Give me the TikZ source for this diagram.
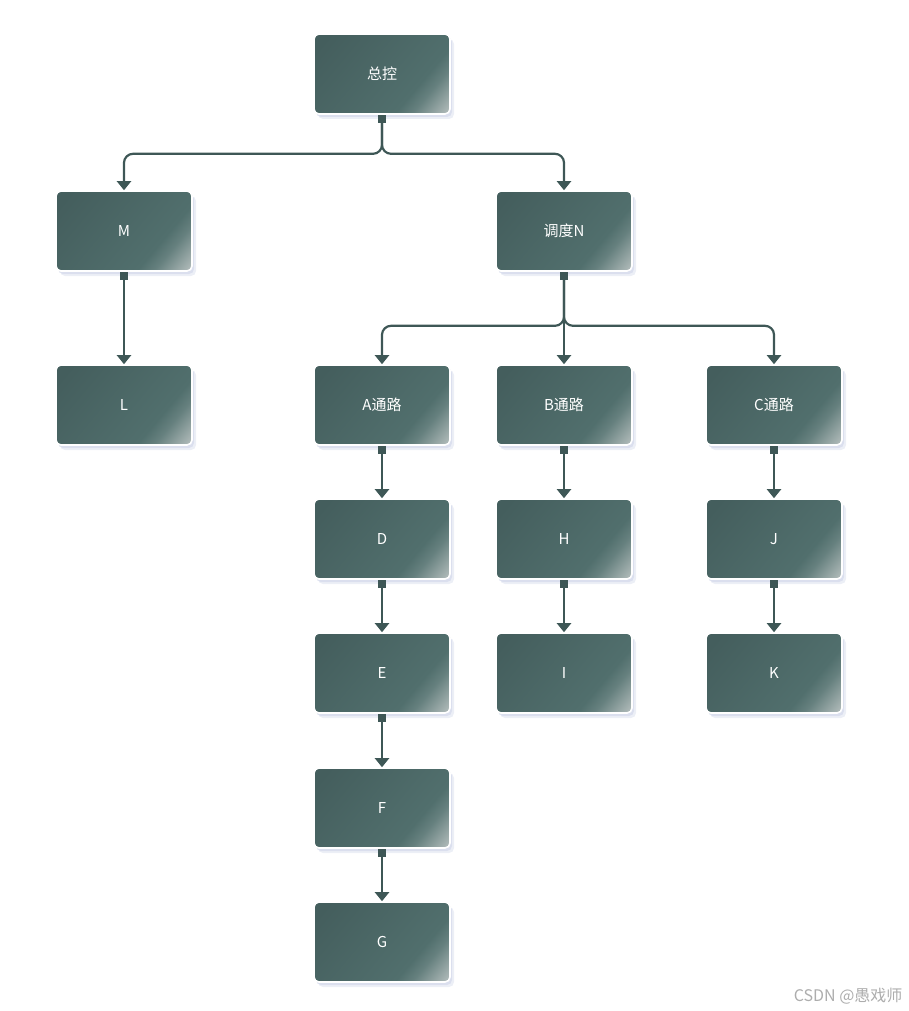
\documentclass[tikz,border=0pt]{standalone}
\usepackage{fontspec}
\setmainfont{Noto Sans CJK SC}
\usetikzlibrary{arrows.meta,shadows}
\definecolor{bdark}{HTML}{445E5D}
\definecolor{bmid}{HTML}{516F6D}
\definecolor{blight}{HTML}{BCC4C3}
\definecolor{bline}{HTML}{3E5756}
\definecolor{bshadow}{HTML}{C9D0E6}
\pgfdeclarehorizontalshading{boxshade}{100bp}{color(0bp)=(bdark); color(20bp)=(bdark); color(66bp)=(bmid); color(72bp)=(bmid!88!white); color(86bp)=(blight); color(100bp)=(blight)}
\begin{document}
\begin{tikzpicture}[x=1pt,y=-1pt,
    box/.style={rectangle, rounded corners=5pt, minimum width=136pt, minimum height=80pt,
        shading=boxshade, shading angle=-40, draw=white, line width=1.6pt,
        text=white, font=\fontsize{15}{17}\selectfont,
        drop shadow={shadow xshift=4pt, shadow yshift=-5pt, fill=bshadow, opacity=.35},
        drop shadow={shadow xshift=2pt, shadow yshift=-3pt, fill=bshadow, opacity=.5}},
    link/.style={draw=bline, line width=2.2pt, rounded corners=9pt,
        {Square[length=8pt,width=8pt]}-{Triangle[width=14pt,length=9pt]}}]
    \useasboundingbox (0,0) rectangle (909,1011);
    \node[box] (zk) at (382,74) {总控};
    \node[box] (m) at (124,231) {M};
    \node[box] (n) at (564,231) {调度N};
    \node[box] (l) at (124,405) {L};
    \node[box] (a) at (382,405) {A通路};
    \node[box] (b) at (564,405) {B通路};
    \node[box] (c) at (774,405) {C通路};
    \node[box] (d) at (382,539) {D};
    \node[box] (h) at (564,539) {H};
    \node[box] (j) at (774,539) {J};
    \node[box] (e) at (382,673) {E};
    \node[box] (i) at (564,673) {I};
    \node[box] (k) at (774,673) {K};
    \node[box] (f) at (382,808) {F};
    \node[box] (g) at (382,942) {G};
    \draw[link] (zk.south) -- ++(0,39) -| (m.north);
    \draw[link] (zk.south) -- ++(0,39) -| (n.north);
    \draw[link] (m.south) -- (l.north);
    \draw[link] (n.south) -- ++(0,54) -| (a.north);
    \draw[link] (n.south) -- (b.north);
    \draw[link] (n.south) -- ++(0,54) -| (c.north);
    \draw[link] (a.south) -- (d.north);
    \draw[link] (d.south) -- (e.north);
    \draw[link] (e.south) -- (f.north);
    \draw[link] (f.south) -- (g.north);
    \draw[link] (b.south) -- (h.north);
    \draw[link] (h.south) -- (i.north);
    \draw[link] (c.south) -- (j.north);
    \draw[link] (j.south) -- (k.north);
    \node[text=black!32, font=\fontsize{16}{18}\selectfont, anchor=east] (wm) at (906,996) {CSDN @愚戏师};
\end{tikzpicture}
\end{document}
